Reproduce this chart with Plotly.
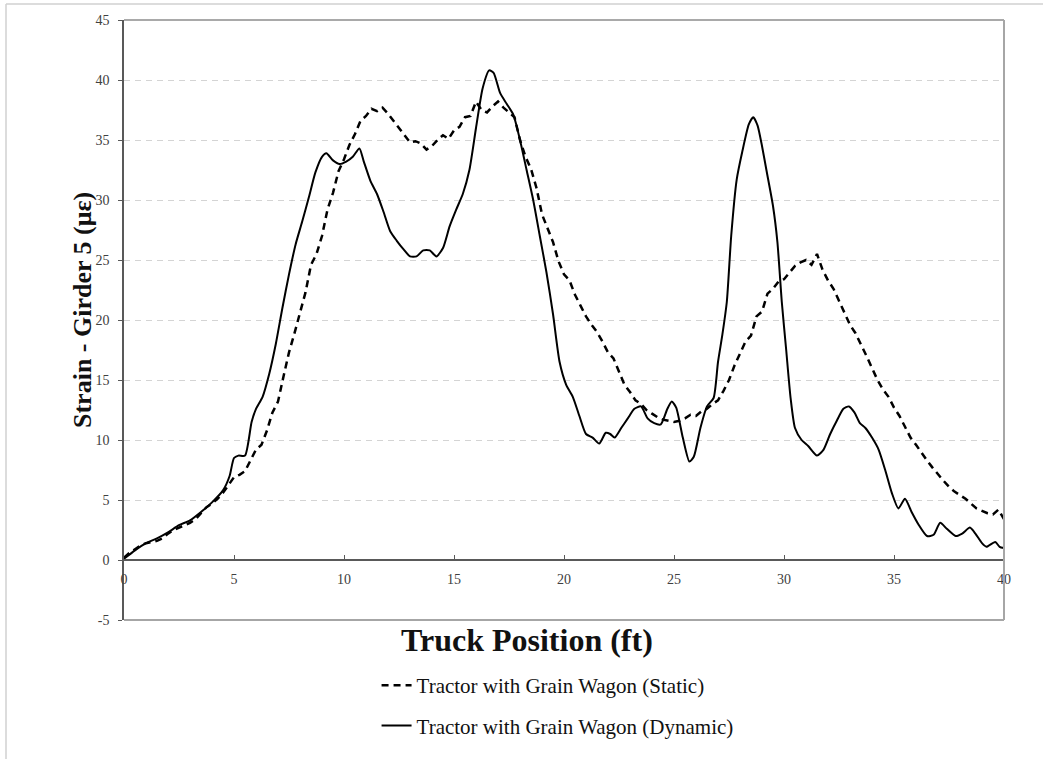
import plotly.graph_objects as go

# Truck position (ft) and measured strain (microstrain) for girder 5
static_x = [i * 0.25 for i in range(161)]
static_y = [
    0.2, 0.6, 0.9, 1.2, 1.4, 1.5, 1.6, 1.8, 2.2, 2.5, 2.7, 2.9, 3.1, 3.4, 3.9, 4.4,
    4.7, 5.1, 5.6, 6.2, 6.9, 7.1, 7.4, 8.3, 9.2, 9.6, 10.8, 12.3, 13.2, 15.3, 17.3, 18.9,
    20.5, 22.3, 24.6, 25.5, 27.0, 29.2, 30.6, 32.4, 33.4, 34.6, 35.5, 36.6, 37.0, 37.6, 37.4, 37.7,
    37.2, 36.6, 35.9, 35.4, 34.8, 34.9, 34.7, 34.2, 34.5, 35.0, 35.4, 35.1, 35.8, 36.1, 36.9, 37.0,
    38.2, 37.5, 37.3, 37.8, 38.2, 37.7, 37.3, 36.9, 35.0, 33.6, 32.6, 31.0, 28.8, 27.6, 26.5, 24.9,
    23.8, 23.3, 22.1, 21.2, 20.3, 19.6, 19.0, 18.2, 17.3, 16.8, 15.7, 14.6, 14.0, 13.3, 13.0, 12.5,
    12.2, 11.9, 11.7, 11.6, 11.5, 11.6, 11.8, 12.1, 12.0, 12.4, 12.6, 13.0, 13.3, 14.1, 15.0, 16.2,
    17.2, 18.2, 18.7, 20.3, 20.7, 22.2, 22.6, 23.2, 23.4, 24.0, 24.5, 24.8, 25.0, 24.6, 25.5, 24.2,
    23.3, 22.6, 21.6, 20.6, 19.6, 18.9, 18.0, 17.0, 16.0, 15.0, 14.2, 13.6, 12.7, 12.0, 11.1, 10.2,
    9.6, 8.9, 8.3, 7.7, 7.1, 6.6, 6.1, 5.7, 5.4, 5.1, 4.7, 4.3, 4.1, 3.9, 3.8, 4.2,
    3.4,
]

dynamic_x = [
    0, 0.5, 1, 1.5, 2, 2.5, 3, 3.5, 4, 4.5, 4.8, 5.0, 5.2, 5.5, 5.8, 6.0, 6.3, 6.6, 6.9,
    7.2, 7.5, 7.8, 8.1, 8.4, 8.7, 9.0, 9.2, 9.5, 9.8, 10.1, 10.4, 10.7, 10.9, 11.2, 11.5,
    11.8, 12.1, 12.4, 12.7, 13.0, 13.3, 13.6, 13.9, 14.2, 14.5, 14.8, 15.1, 15.4, 15.7,
    16.0, 16.3, 16.6, 16.8, 17.1, 17.4, 17.7, 18.0, 18.3, 18.6, 18.9, 19.2, 19.5, 19.8,
    20.1, 20.4, 20.7, 21.0, 21.3, 21.6, 21.9, 22.1, 22.3, 22.6, 22.9, 23.2, 23.5, 23.8,
    24.1, 24.4, 24.7, 24.9, 25.1, 25.4, 25.7, 25.9, 26.2, 26.5, 26.8, 27.0, 27.2, 27.4,
    27.6, 27.85, 28.1, 28.4, 28.6, 28.8, 29.0, 29.2, 29.5, 29.7, 29.9, 30.1, 30.3, 30.5,
    30.8, 31.1, 31.5, 31.8, 32.1, 32.4, 32.7, 32.95, 33.2, 33.45, 33.7, 34.0, 34.3, 34.6,
    34.9, 35.2, 35.5, 35.8, 36.1, 36.5, 36.8, 37.1, 37.4, 37.8, 38.1, 38.45, 38.7, 39.0,
    39.2, 39.6, 39.8, 40.0,
]
dynamic_y = [
    0.1, 0.8, 1.4, 1.8, 2.3, 2.9, 3.3, 4.0, 4.8, 5.8, 7.0, 8.5, 8.7, 8.7, 11.5, 12.6, 13.6, 15.5, 18.0,
    21.0, 23.8, 26.3, 28.2, 30.2, 32.3, 33.6, 33.9, 33.3, 33.0, 33.2, 33.6, 34.3, 33.2, 31.6, 30.5,
    29.0, 27.4, 26.6, 25.9, 25.3, 25.3, 25.8, 25.8, 25.3, 26.0, 27.8, 29.2, 30.5, 32.5,
    36.0, 39.3, 40.8, 40.6, 38.9, 38.0, 37.1, 35.0, 32.5, 30.0, 27.0, 24.0, 20.5, 16.5,
    14.6, 13.6, 12.0, 10.5, 10.2, 9.7, 10.6, 10.5, 10.2, 11.0, 11.8, 12.6, 12.8, 11.8,
    11.4, 11.3, 12.6, 13.2, 12.7, 10.2, 8.2, 8.6, 11.0, 12.8, 13.5, 16.5, 18.8, 21.5,
    27.0, 31.7, 34.0, 36.3, 36.9, 36.2, 34.5, 32.5, 29.5, 26.5, 21.5, 17.5, 13.5, 11.0,
    10.0, 9.5, 8.7, 9.2, 10.5, 11.6, 12.6, 12.8, 12.3, 11.4, 11.0, 10.2, 9.2, 7.5,
    5.6, 4.3, 5.1, 4.0, 3.0, 2.0, 2.1, 3.1, 2.6, 2.0, 2.2, 2.7, 2.2, 1.4,
    1.1, 1.5, 1.1, 1.0,
]

x_ticks = [0, 5, 10, 15, 20, 25, 30, 35, 40]
y_ticks = [-5, 0, 5, 10, 15, 20, 25, 30, 35, 40, 45]

SERIF = "Liberation Serif, Times New Roman, serif"

fig = go.Figure()
fig.add_trace(go.Scatter(
    x=static_x, y=static_y, mode="lines",
    name="Tractor with Grain Wagon (Static)", legendgroup="s",
    line=dict(color="black", width=2.5, dash="7px,5px"),
))
fig.add_trace(go.Scatter(
    x=dynamic_x, y=dynamic_y, mode="lines",
    name="Tractor with Grain Wagon (Dynamic)", legendgroup="d",
    line=dict(color="black", width=2, shape="spline", smoothing=0.6),
))

fig.update_layout(
    width=1043, height=759,
    margin=dict(l=124, r=39, t=20, b=139),
    paper_bgcolor="white", plot_bgcolor="white",
    font=dict(family=SERIF, color="#404040", size=14),
    showlegend=True,
    legend=dict(
        x=0.287, y=-0.075, xanchor="left", yanchor="top",
        font=dict(family=SERIF, size=21, color="#111111"),
        tracegroupgap=10, bgcolor="rgba(0,0,0,0)",
    ),
    xaxis=dict(
        range=[0, 40], tickvals=x_ticks, ticktext=[str(v) for v in x_ticks],
        showgrid=False, zeroline=False,
        showline=True, linecolor="#595959", linewidth=1.5,
        ticks="inside", ticklen=4, tickcolor="#595959",
        anchor="free", position=0.1, ticklabelstandoff=6,
        tickfont=dict(family=SERIF, size=14, color="#404040"),
    ),
    yaxis=dict(
        range=[-5, 45], tickvals=y_ticks, ticktext=[str(v) for v in y_ticks],
        showgrid=True, gridcolor="#d4d4d4", gridwidth=1, griddash="6px,5px",
        zeroline=False,
        showline=True, linecolor="#595959", linewidth=1.5,
        ticks="outside", ticklen=4, tickcolor="#595959", ticklabelstandoff=6,
        tickfont=dict(family=SERIF, size=14, color="#404040"),
    ),
    shapes=[
        # outer plot frame (top, right, bottom)
        dict(type="line", xref="paper", yref="paper", x0=0, x1=1, y0=1, y1=1,
             line=dict(color="#8c8c8c", width=1.5)),
        dict(type="line", xref="paper", yref="paper", x0=1, x1=1, y0=0, y1=1,
             line=dict(color="#a6a6a6", width=2)),
        dict(type="line", xref="paper", yref="paper", x0=0, x1=1, y0=0, y1=0,
             line=dict(color="#a6a6a6", width=2)),
        # page border
        dict(type="line", xref="paper", yref="paper",
             x0=(6 - 124) / 880, x1=(1043 - 124) / 880,
             y0=(620 - 4) / 600, y1=(620 - 4) / 600,
             line=dict(color="#d0d0d0", width=1.5)),
        dict(type="line", xref="paper", yref="paper",
             x0=(6 - 124) / 880, x1=(6 - 124) / 880,
             y0=(620 - 4) / 600, y1=(620 - 770) / 600,
             line=dict(color="#d0d0d0", width=1.5)),
    ],
    annotations=[
        dict(text="<b>Truck Position (ft)</b>", xref="paper", yref="paper",
             x=(527 - 124) / 880, y=(620 - 640) / 600, showarrow=False,
             xanchor="center", yanchor="middle",
             font=dict(family=SERIF, size=32, color="#111111")),
        dict(text="<b>Strain - Girder 5 (με)</b>", xref="paper", yref="paper",
             x=(83 - 124) / 880, y=(620 - 310) / 600, showarrow=False,
             xanchor="center", yanchor="middle", textangle=-90,
             font=dict(family=SERIF, size=26, color="#111111")),
    ],
)

fig.write_html("out.html")
